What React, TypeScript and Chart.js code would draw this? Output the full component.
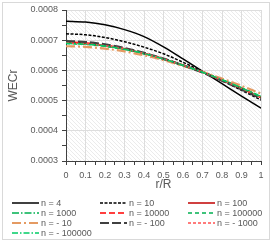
import React, { useEffect, useRef } from "react";
import { Chart, registerables } from "chart.js";

Chart.register(...registerables);

const rValues = [0, 0.1, 0.2, 0.3, 0.4, 0.5, 0.6, 0.7, 0.8, 0.9, 1.0];

const n4 = [0.000763, 0.00076, 0.000751, 0.000735, 0.000712, 0.000678, 0.000638, 0.000597, 0.000556, 0.000515, 0.000475];
const n10 = [0.000721, 0.000718, 0.000709, 0.000695, 0.000677, 0.000655, 0.000627, 0.000597, 0.000566, 0.000534, 0.000502];
const n100 = [0.000692, 0.000689, 0.000682, 0.000671, 0.000656, 0.000638, 0.000617, 0.000594, 0.000568, 0.00054, 0.00051];
const n1000 = [0.00069, 0.000687, 0.000681, 0.00067, 0.000655, 0.000637, 0.000616, 0.000594, 0.000569, 0.000542, 0.000513];
const n10000 = [0.000694, 0.000691, 0.000684, 0.000672, 0.000657, 0.000639, 0.000618, 0.000594, 0.000568, 0.00054, 0.00051];
const n100000 = [0.000689, 0.000686, 0.00068, 0.000669, 0.000655, 0.000637, 0.000616, 0.000594, 0.000569, 0.000543, 0.000514];
const nm10 = [0.00068, 0.000678, 0.000672, 0.000663, 0.00065, 0.000634, 0.000615, 0.000595, 0.000573, 0.000549, 0.000523];
const nm100 = [0.000697, 0.000694, 0.000686, 0.000674, 0.000658, 0.000639, 0.000617, 0.000593, 0.000566, 0.000537, 0.000507];
const nm1000 = [0.000691, 0.000688, 0.000682, 0.000671, 0.000656, 0.000638, 0.000617, 0.000594, 0.000568, 0.000541, 0.000511];
const nm100000 = [0.00069, 0.000687, 0.000681, 0.00067, 0.000656, 0.000638, 0.000617, 0.000594, 0.000569, 0.000542, 0.000512];

const seriesLabels = ["n = 4", "n = 10", "n = 100", "n = 1000", "n = 10000", "n = 100000", "n = - 10", "n = - 100", "n = - 1000", "n = - 100000"];
const seriesValues = [n4, n10, n100, n1000, n10000, n100000, nm10, nm100, nm1000, nm100000];
const seriesColors = ["#000000", "#000000", "#c00000", "#00b050", "#ff0000", "#00b050", "#e49a62", "#404040", "#ff5050", "#00cc66"];
const seriesDashes: number[][] = [[], [3, 1.5], [], [7, 2, 1.5, 2], [6, 3], [4, 3], [9, 3, 2, 3], [9, 3], [3, 2], [6, 2, 1.5, 2]];
const seriesWidths = [1.5, 1.5, 1.5, 1.5, 1.5, 1.5, 2.2, 2.2, 1.5, 1.5];

const xTitle = "r/R";
const yTitle = "WECr";

const FONT = "'Liberation Sans', Arial, sans-serif";
const TEXT = "#595959";

function makePattern(): CanvasPattern | string {
  const pc = document.createElement("canvas");
  pc.width = 4;
  pc.height = 4;
  const p = pc.getContext("2d");
  if (!p) return "#f6f6f6";
  p.fillStyle = "#ffffff";
  p.fillRect(0, 0, 4, 4);
  p.fillStyle = "#ebebeb";
  for (let i = 0; i < 4; i++) p.fillRect(i, i, 1, 1);
  const pat = p.createPattern(pc, "repeat");
  return pat || "#f6f6f6";
}

const isMult = (v: number, step: number) => Math.abs(v / step - Math.round(v / step)) < 1e-6;

export default function App() {
  const ref = useRef<HTMLCanvasElement>(null);
  useEffect(() => {
    if (!ref.current) return;
    const pattern = makePattern();
    const bgPlugin = {
      id: "plotBg",
      beforeDraw(chart: any) {
        const { ctx, chartArea } = chart;
        ctx.save();
        ctx.fillStyle = pattern;
        ctx.fillRect(chartArea.left, chartArea.top, chartArea.right - chartArea.left, chartArea.bottom - chartArea.top);
        ctx.restore();
      },
    };
    const legendPlugin = {
      id: "gridLegend",
      afterDraw(chart: any) {
        const { ctx } = chart;
        const cols = [12, 100, 188];
        const rows = [203, 213, 223, 233];
        ctx.save();
        chart.data.datasets.forEach((ds: any, i: number) => {
          const x0 = cols[i % 3];
          const y = rows[Math.floor(i / 3)];
          ctx.beginPath();
          ctx.setLineDash(ds.borderDash || []);
          ctx.strokeStyle = ds.borderColor;
          ctx.lineWidth = ds.borderWidth;
          ctx.moveTo(x0, y);
          ctx.lineTo(x0 + 27, y);
          ctx.stroke();
          ctx.setLineDash([]);
          ctx.fillStyle = TEXT;
          ctx.font = `9px ${FONT}`;
          ctx.textBaseline = "middle";
          ctx.textAlign = "left";
          ctx.fillText(ds.label, x0 + 29, y + 0.5);
        });
        ctx.restore();
      },
    };
    const chart = new Chart(ref.current, {
      type: "line",
      data: {
        datasets: seriesValues.map((vals, i) => ({
          label: seriesLabels[i],
          data: rValues.map((r, j) => ({ x: r, y: vals[j] })),
          borderColor: seriesColors[i],
          backgroundColor: seriesColors[i],
          borderDash: seriesDashes[i],
          borderWidth: seriesWidths[i],
          pointRadius: 0,
          cubicInterpolationMode: "monotone" as const,
          fill: false,
          order: 20 - i,
        })),
      },
      options: {
        responsive: false,
        animation: false,
        devicePixelRatio: 1,
        layout: { padding: { left: 0, top: 10, right: 12, bottom: 51 } },
        plugins: { legend: { display: false }, tooltip: { enabled: false } },
        scales: {
          x: {
            type: "linear",
            min: 0,
            max: 1,
            afterFit(scale: any) {
              scale.height = 31;
            },
            ticks: {
              stepSize: 0.05,
              autoSkip: false,
              maxRotation: 0,
              padding: 5,
              color: TEXT,
              font: { family: FONT, size: 9 },
              callback: (v: any) => {
                const n = Number(v);
                if (!isMult(n, 0.1)) return "";
                if (isMult(n, 1)) return String(Math.round(n));
                return n.toFixed(1);
              },
            },
            grid: {
              color: (c: any) => (c.tick && isMult(c.tick.value, 0.1) ? "#dddddd" : "rgba(0,0,0,0)"),
              tickColor: "#404040",
              tickLength: 4,
              drawTicks: true,
            },
            border: { color: "#404040", width: 1 },
            title: {
              display: true,
              text: xTitle,
              color: TEXT,
              font: { family: FONT, size: 12 },
              padding: { top: 0, bottom: 0 },
            },
          },
          y: {
            type: "linear",
            min: 0.0003,
            max: 0.0008,
            afterFit(scale: any) {
              scale.width = 66;
            },
            ticks: {
              stepSize: 0.00005,
              autoSkip: false,
              padding: 4,
              color: TEXT,
              font: { family: FONT, size: 9 },
              callback: (v: any) => {
                const n = Number(v);
                if (!isMult(n, 0.0001)) return "";
                return n.toFixed(4);
              },
            },
            grid: {
              color: (c: any) => (c.tick && isMult(c.tick.value, 0.0001) ? "#dddddd" : "rgba(0,0,0,0)"),
              tickColor: "#404040",
              tickLength: 4,
              drawTicks: true,
            },
            border: { color: "#404040", width: 1 },
            title: {
              display: true,
              text: yTitle,
              color: TEXT,
              font: { family: FONT, size: 12 },
              padding: { top: 6, bottom: 0 },
            },
          },
        },
      },
      plugins: [bgPlugin, legendPlugin],
    });
    return () => chart.destroy();
  }, []);
  return (
    <div style={{ position: "fixed", left: 0, top: 0, width: 273, height: 243, background: "#ffffff" }}>
      <canvas ref={ref} width={273} height={243} style={{ position: "absolute", left: 0, top: 0 }} />
      <div
        style={{
          position: "absolute",
          left: 2,
          top: 2,
          width: 268,
          height: 238,
          border: "1px solid #d9d9d9",
          boxSizing: "border-box",
          pointerEvents: "none",
        }}
      />
    </div>
  );
}
